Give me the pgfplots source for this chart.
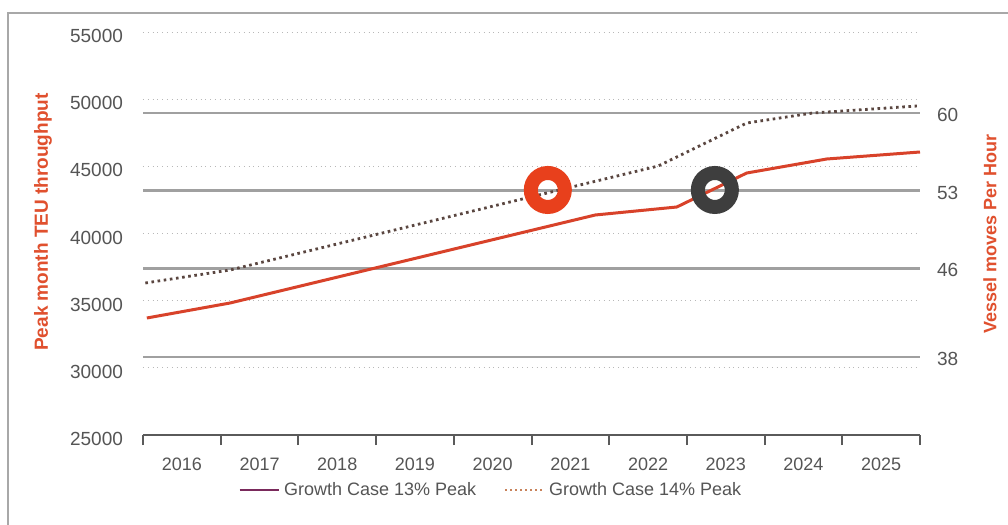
\documentclass[border=0pt]{standalone}
\usepackage{fontspec}
\setmainfont{Liberation Sans}
\usepackage{pgfplots}
\pgfplotsset{compat=1.18}
\definecolor{tickgray}{HTML}{555555}
\definecolor{gridgray}{HTML}{B8B8B8}
\definecolor{solidgrid}{HTML}{A0A0A0}
\definecolor{axgray}{HTML}{5A5A5A}
\definecolor{lblred}{HTML}{E0502E}
\definecolor{linered}{HTML}{D8422A}
\definecolor{dotgray}{HTML}{5A4640}
\definecolor{ringred}{HTML}{E8401C}
\definecolor{ringdark}{HTML}{3E3E3E}
\definecolor{legpurple}{HTML}{7A2A5C}
\definecolor{legorange}{HTML}{C8825A}
\definecolor{framegray}{HTML}{A8A8A8}
\begin{document}
\begin{tikzpicture}
\useasboundingbox (0,0) rectangle (504pt,262.5pt);
\fill[white] (0,0) rectangle (504pt,262.5pt);
\draw[framegray, line width=1pt] (4pt,0pt) -- (4pt,256pt) -- (504pt,256pt);

% right axis: vessel moves per hour
\begin{axis}[
  at={(71.5pt,45pt)}, anchor=south west,
  scale only axis, width=388.5pt, height=201.5pt,
  xmin=0, xmax=10, ymin=30.97, ymax=67.30,
  hide x axis,
  axis y line*=right,
  y axis line style={draw=none},
  ytick={38,46,53,60},
  ytick style={draw=none},
  ymajorgrids,
  major grid style={solidgrid, line width=1.25pt},
  /pgf/number format/assume math mode=true,
  yticklabel style={font=\fontsize{9.5}{11}\selectfont, text=tickgray, xshift=5pt, yshift=-1pt},
  ylabel={Vessel moves Per Hour},
  every axis y label/.style={at={(rel axis cs:1.0901,0.4988)}, rotate=90, anchor=center, font=\bfseries\fontsize{9}{10}\selectfont, text=lblred},
]
\end{axis}

% left axis: peak month TEU throughput
\begin{axis}[
  at={(71.5pt,45pt)}, anchor=south west,
  scale only axis, width=388.5pt, height=201.5pt,
  xmin=0, xmax=10, ymin=25000, ymax=55000,
  axis x line*=bottom, axis y line*=left,
  y axis line style={draw=none},
  x axis line style={axgray, line width=1.25pt, -},
  ytick={25000,30000,...,55000},
  ytick style={draw=none},
  ymajorgrids,
  major grid style={gridgray, dotted, line width=0.5pt},
  scaled y ticks=false,
  /pgf/number format/fixed,
  /pgf/number format/set thousands separator={},
  /pgf/number format/assume math mode=true,
  yticklabel style={font=\fontsize{9.5}{11}\selectfont, text=tickgray, xshift=-1.5pt, yshift=-2pt},
  xtick={0,1,...,10},
  xticklabels={2016,2017,2018,2019,2020,2021,2022,2023,2024,2025},
  x tick label as interval,
  tick align=outside,
  major tick length=5pt,
  xtick style={axgray, line width=1pt},
  xticklabel style={font=\fontsize{9}{10}\selectfont, text=tickgray, yshift=-3pt},
  ylabel={Peak month TEU throughput},
  every axis y label/.style={at={(rel axis cs:-0.1287,0.5285)}, rotate=90, anchor=center, font=\bfseries\fontsize{9.5}{11}\selectfont, text=lblred},
  legend columns=2,
  legend cell align=left,
  legend style={draw=none, fill=none, at={(rel axis cs:0.449,-0.1365)}, anchor=center,
    font=\fontsize{9}{10}\selectfont, text=tickgray,
    /tikz/every even column/.append style={column sep=12pt}},
  legend image code/.code={\path (0pt,0pt) -- (19.5pt,0pt); \draw[#1] (0pt,0pt) -- (17pt,0pt);},
]
\addplot[forget plot, dotgray, line width=1.4pt, dash pattern=on 1.3pt off 1.8pt]
  coordinates {(0.03,36315) (1.12,37283) (6.63,45024) (7.77,48225) (8.62,48970) (9.96,49491)};
\addplot[forget plot, only marks, mark=o, mark size=8.5pt, mark options={draw=ringred, line width=7pt}]
  coordinates {(5.21,43240)};
\addplot[forget plot, only marks, mark=o, mark size=8.5pt, mark options={draw=ringdark, line width=7pt}]
  coordinates {(7.36,43240)};
\addplot[forget plot, linered, line width=1.5pt]
  coordinates {(0.05,33710) (1.12,34826) (5.82,41377) (6.87,41973) (7.77,44503) (8.80,45546) (10.0,46067)};
\addlegendimage{legpurple, line width=1.3pt}
\addlegendentry{Growth Case 13\% Peak}
\addlegendimage{legorange, line width=1pt, dash pattern=on 1pt off 1.5pt}
\addlegendentry{Growth Case 14\% Peak}
\end{axis}
\end{tikzpicture}
\end{document}
